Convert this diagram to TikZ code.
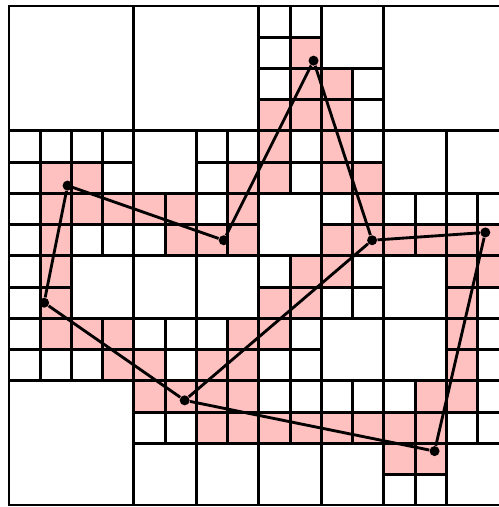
\documentclass[tikz,border=0pt]{standalone}
\usepackage{tikz}
\usetikzlibrary{positioning}
\definecolor{qpink}{HTML}{FFC0C0}

\begin{document}
\begin{tikzpicture}[x=0.5cm, y=-0.5cm,
    cell/.style={fill=qpink},
    qline/.style={line width=1.35pt},
    rim/.style={line width=0.5pt},
    vtx/.style={circle, fill=black, inner sep=0pt, minimum size=1.6mm},
    link/.style={line width=1.3pt}
  ]
  \useasboundingbox (-0.288,-0.192) rectangle (15.68,16.04);
  \foreach \r/\cs in {1/{9}, 2/{9,10}, 3/{8,9,10}, 4/{8,10}, 5/{1,2,7,8,10,11},
      6/{1,2,3,4,5,7,11}, 7/{1,5,6,7,10,11,12,13,14,15}, 8/{1,9,10,14,15},
      9/{1,8,9,14}, 10/{1,2,3,7,8,14}, 11/{3,4,6,7,14}, 12/{4,5,6,7,13,14},
      13/{6,7,8,9,10,11,12,13}, 14/{12,13}}
    \foreach \c in \cs
      \fill[cell] (\c,\r) rectangle +(1,1);
  \begin{scope}
    \clip (0,0) rectangle (16,16);
    \foreach \c/\r/\s in {0/0/4, 4/0/4, 12/0/4, 0/12/4,
        4/4/2, 10/0/2, 8/6/2, 12/4/2, 14/4/2, 2/8/2, 4/8/2, 6/8/2,
        10/10/2, 12/8/2, 12/10/2, 4/14/2, 6/14/2, 8/14/2, 10/14/2, 14/14/2}
      \draw[qline] (\c,\r) rectangle +(\s,\s);
    \foreach \c/\r in {0/4, 2/4, 0/6, 2/6, 6/4, 4/6, 6/6, 8/0, 8/2, 10/2,
        8/4, 10/4, 10/6, 12/6, 14/6, 0/8, 0/10, 2/10, 4/10, 6/10, 4/12, 6/12,
        8/8, 10/8, 8/10, 14/8, 14/10, 8/12, 10/12, 12/12, 14/12, 12/14}
      \draw[qline] (\c,\r) rectangle +(2,2)
        (\c+1,\r) -- +(0,2) (\c,\r+1) -- +(2,0);
  \end{scope}
  \draw[rim] (0,0) rectangle (16,16);

  \node[vtx] (p1) at (9.75,1.75) {};
  \node[vtx] (p2) at (11.625,7.5) {};
  \node[vtx] (p3) at (15.25,7.25) {};
  \node[vtx] (p4) at (13.625,14.25) {};
  \node[vtx] (p5) at (5.625,12.625) {};
  \node[vtx] (p6) at (1.125,9.5) {};
  \node[vtx] (p7) at (1.875,5.75) {};
  \node[vtx] (p8) at (6.875,7.5) {};
  \draw[link] (p1) -- (p2);
  \draw[link] (p2) -- (p3);
  \draw[link] (p3) -- (p4);
  \draw[link] (p4) -- (p5);
  \draw[link] (p5) -- (p6);
  \draw[link] (p6) -- (p7);
  \draw[link] (p7) -- (p8);
  \draw[link] (p8) -- (p1);
  \draw[link] (p2) -- (p5);
\end{tikzpicture}
\end{document}
